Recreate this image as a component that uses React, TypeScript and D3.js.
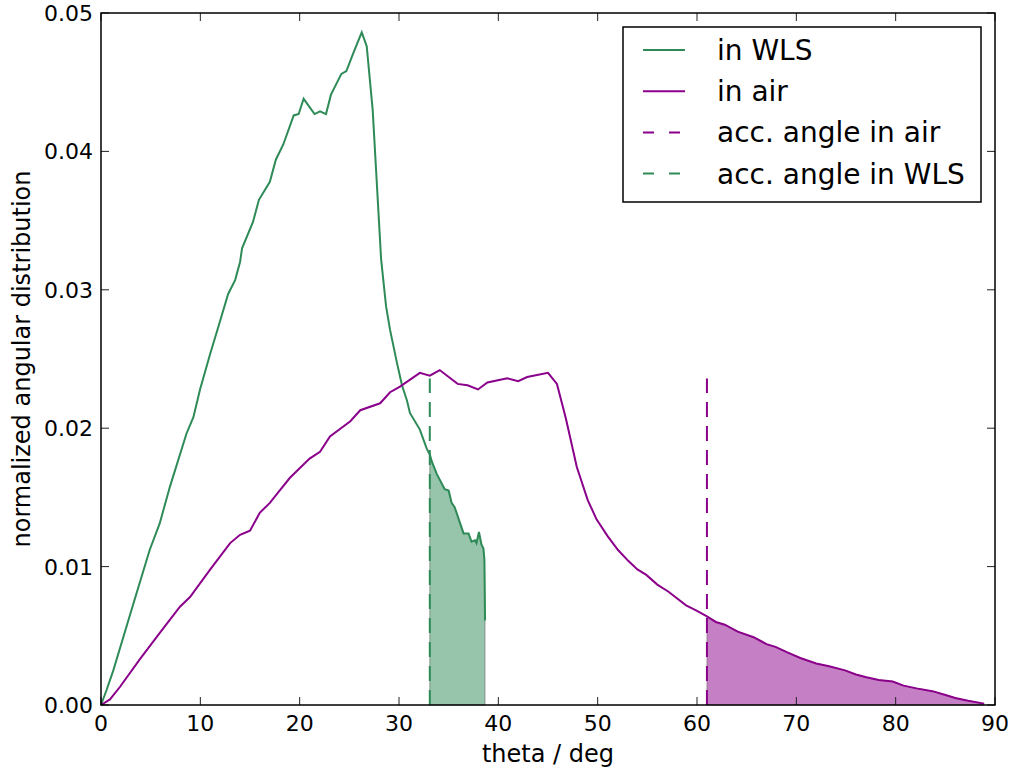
import React, { useEffect, useRef } from "react";
import * as d3 from "d3";

// angular distribution inside the WLS
const wlsTheta = [
  0, 0.57, 1.24, 3.25, 4.9, 5.9, 6.95, 8.6, 9.3, 9.97, 11.0, 11.8, 12.8, 13.5,
  14.0, 14.2, 15.3, 15.9, 17.0, 17.6, 18.35, 19.4, 19.9, 20.4, 21.5, 22.05,
  22.65, 23.15, 24.2, 24.7, 25.4, 26.25, 26.75, 27.35, 28.2, 28.7, 29.1, 29.8,
  30.3, 30.8, 31.1, 32.1, 32.8, 33.1, 33.3, 33.8, 34.6, 35.0, 35.3, 35.6, 36.5,
  37.0, 37.3, 37.65, 37.8, 38.05, 38.3, 38.5, 38.6, 38.66,
];
const wlsValue = [
  0, 0.0011, 0.0025, 0.0073, 0.0112, 0.0131, 0.0158, 0.0196, 0.0208, 0.0228,
  0.0254, 0.0273, 0.0297, 0.0307, 0.032, 0.033, 0.0349, 0.0365, 0.0378, 0.0394,
  0.0405, 0.0426, 0.0427, 0.0438, 0.0427, 0.0429, 0.0427, 0.0441, 0.0456,
  0.0458, 0.0471, 0.0486, 0.0476, 0.043, 0.0322, 0.0288, 0.0271, 0.0247,
  0.0231, 0.022, 0.0211, 0.0199, 0.0185, 0.0181, 0.0176, 0.0167, 0.0156,
  0.0155, 0.0146, 0.0143, 0.0124, 0.0124, 0.0118, 0.0119, 0.0117, 0.0125,
  0.0116, 0.0113, 0.0105, 0.0061,
];

// angular distribution in air
const airTheta = [
  0, 0.9, 1.9, 3.9, 5.9, 7.95, 8.96, 11.0, 13.0, 14.0, 15.0, 16.0, 17.0, 18.0,
  19.0, 21.0, 22.05, 23.05, 25.1, 26.1, 28.1, 29.1, 30.1, 32.1, 33.1, 34.1,
  35.9, 36.9, 37.95, 38.9, 40.9, 42.0, 42.9, 45.0, 45.9, 46.8, 47.9, 49.0,
  49.9, 51.0, 52.05, 53.1, 54.0, 54.9, 56.0, 57.1, 58.9, 60.0, 61.0, 61.9,
  62.8, 64.1, 65.7, 67.0, 67.9, 69.1, 70.4, 72.0, 73.3, 74.9, 76.0, 77.05,
  78.3, 79.7, 80.8, 82.1, 83.7, 85.1, 86.0, 87.3, 88.9,
];
const airValue = [
  0, 0.0004, 0.0013, 0.0033, 0.0052, 0.0071, 0.0078, 0.0098, 0.0117, 0.0123,
  0.0126, 0.0139, 0.0146, 0.0155, 0.0164, 0.0178, 0.0183, 0.0194, 0.0205,
  0.0213, 0.0218, 0.0226, 0.023, 0.024, 0.0238, 0.0242, 0.0232, 0.0231,
  0.0228, 0.0233, 0.0236, 0.0234, 0.0237, 0.024, 0.0232, 0.0207, 0.0172,
  0.0148, 0.0134, 0.0122, 0.0112, 0.0104, 0.0098, 0.0094, 0.0087, 0.0082,
  0.0072, 0.0068, 0.0064, 0.006, 0.0058, 0.0053, 0.0049, 0.0044, 0.0042,
  0.0038, 0.0034, 0.003, 0.0028, 0.0025, 0.0022, 0.002, 0.0018, 0.0017,
  0.0014, 0.0012, 0.001, 0.0007, 0.0005, 0.0003, 0.0001,
];

// acceptance angles and height of their marker lines
const accAngleAir = 61.0;
const accAngleWls = 33.1;
const accLineTop = 0.0236;

const xTicks = [0, 10, 20, 30, 40, 50, 60, 70, 80, 90];
const yTicks = [0, 0.01, 0.02, 0.03, 0.04, 0.05];

const legendItems = [
  { label: "in WLS", key: "wls", dashed: false },
  { label: "in air", key: "air", dashed: false },
  { label: "acc. angle in air", key: "air", dashed: true },
  { label: "acc. angle in WLS", key: "wls", dashed: true },
];

const GREEN = "#2e8b57";
const PURPLE = "#8b008b";
const FONT = "DejaVu Sans";

type Pt = { t: number; v: number };

export default function App() {
  const svgRef = useRef<SVGSVGElement>(null);

  useEffect(() => {
    const svg = d3.select(svgRef.current);
    svg.selectAll("*").remove();

    const width = 1016;
    const height = 776;
    const margin = { top: 13, right: 21, bottom: 71, left: 101 };

    svg.attr("width", width).attr("height", height);
    svg.append("rect").attr("width", width).attr("height", height).attr("fill", "#fff");

    const x = d3.scaleLinear().domain([0, 90]).range([margin.left, width - margin.right]);
    const y = d3.scaleLinear().domain([0, 0.05]).range([height - margin.bottom, margin.top]);

    const wls: Pt[] = wlsTheta.map((t, i) => ({ t, v: wlsValue[i] }));
    const air: Pt[] = airTheta.map((t, i) => ({ t, v: airValue[i] }));

    const line = d3
      .line<Pt>()
      .x((d) => x(d.t))
      .y((d) => y(d.v));
    const area = d3
      .area<Pt>()
      .x((d) => x(d.t))
      .y0(y(0))
      .y1((d) => y(d.v));

    const plot = svg.append("g");

    // accepted parts
    const fills = [
      { data: wls.filter((d) => d.t >= accAngleWls), color: GREEN },
      { data: air.filter((d) => d.t >= accAngleAir), color: PURPLE },
    ];
    fills.forEach((f) => {
      plot
        .append("path")
        .attr("d", area(f.data))
        .attr("fill", f.color)
        .attr("fill-opacity", 0.5)
        .attr("stroke", "#555")
        .attr("stroke-opacity", 0.5)
        .attr("stroke-width", 1);
    });

    plot
      .append("path")
      .datum(wls)
      .attr("d", line)
      .attr("fill", "none")
      .attr("stroke", GREEN)
      .attr("stroke-width", 2);
    plot
      .append("path")
      .datum(air)
      .attr("d", line)
      .attr("fill", "none")
      .attr("stroke", PURPLE)
      .attr("stroke-width", 2);

    [
      { t: accAngleAir, color: PURPLE },
      { t: accAngleWls, color: GREEN },
    ].forEach((a) => {
      plot
        .append("line")
        .attr("x1", x(a.t))
        .attr("x2", x(a.t))
        .attr("y1", y(0))
        .attr("y2", y(accLineTop))
        .attr("stroke", a.color)
        .attr("stroke-width", 2)
        .attr("stroke-dasharray", "15 9");
    });

    // ticks, inward on all four sides
    const tickLen = 8;
    const tk = svg.append("g").attr("stroke", "#222").attr("stroke-width", 1);
    xTicks.forEach((t) => {
      tk.append("line").attr("x1", x(t)).attr("x2", x(t)).attr("y1", y(0)).attr("y2", y(0) - tickLen);
      tk.append("line").attr("x1", x(t)).attr("x2", x(t)).attr("y1", y(0.05)).attr("y2", y(0.05) + tickLen);
    });
    yTicks.forEach((t) => {
      tk.append("line").attr("x1", x(0)).attr("x2", x(0) + tickLen).attr("y1", y(t)).attr("y2", y(t));
      tk.append("line").attr("x1", x(90)).attr("x2", x(90) - tickLen).attr("y1", y(t)).attr("y2", y(t));
    });

    svg
      .append("rect")
      .attr("x", x(0))
      .attr("y", y(0.05))
      .attr("width", x(90) - x(0))
      .attr("height", y(0) - y(0.05))
      .attr("fill", "none")
      .attr("stroke", "#000")
      .attr("stroke-width", 1.5);

    const labels = svg.append("g").attr("font-family", FONT).attr("fill", "#000");
    xTicks.forEach((t) => {
      labels
        .append("text")
        .attr("x", x(t))
        .attr("y", y(0) + 26)
        .attr("text-anchor", "middle")
        .attr("font-size", 22)
        .text(String(t));
    });
    yTicks.forEach((t) => {
      labels
        .append("text")
        .attr("x", x(0) - 8)
        .attr("y", y(t) + 8)
        .attr("text-anchor", "end")
        .attr("font-size", 22)
        .text(d3.format(".2f")(t));
    });

    labels
      .append("text")
      .attr("x", (x(0) + x(90)) / 2)
      .attr("y", 762)
      .attr("text-anchor", "middle")
      .attr("font-size", 24)
      .text("theta / deg");
    labels
      .append("text")
      .attr("transform", `translate(30,${(y(0) + y(0.05)) / 2}) rotate(-90)`)
      .attr("text-anchor", "middle")
      .attr("font-size", 24)
      .text("normalized angular distribution");

    // legend
    const lg = svg.append("g");
    lg.append("rect")
      .attr("x", 623)
      .attr("y", 27)
      .attr("width", 358)
      .attr("height", 175)
      .attr("fill", "#fff")
      .attr("stroke", "#000")
      .attr("stroke-width", 1.5);
    legendItems.forEach((it, i) => {
      const by = 60 + i * 41.2;
      lg.append("line")
        .attr("x1", 643)
        .attr("x2", 685)
        .attr("y1", by - 10)
        .attr("y2", by - 10)
        .attr("stroke", it.key === "wls" ? GREEN : PURPLE)
        .attr("stroke-width", 2)
        .attr("stroke-dasharray", it.dashed ? "11 15" : null);
      lg.append("text")
        .attr("x", 717)
        .attr("y", by)
        .attr("font-family", FONT)
        .attr("font-size", 28)
        .text(it.label);
    });
  }, []);

  return <svg ref={svgRef} style={{ position: "absolute", left: 0, top: 0 }}></svg>;
}
